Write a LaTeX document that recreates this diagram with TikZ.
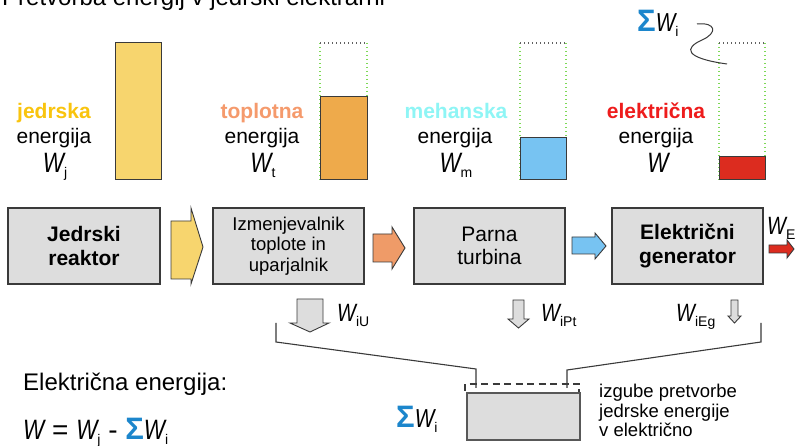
\documentclass[tikz,border=0pt]{standalone}
\usepackage{fontspec}
\setmainfont{Liberation Sans}
\usepackage{graphicx}
\usetikzlibrary{calc}

\definecolor{boxgray}{HTML}{DDDDDD}
\definecolor{edgegray}{HTML}{3A3A3A}
\definecolor{nucyellow}{HTML}{F7D56E}
\definecolor{heatfill}{HTML}{EEAA4B}
\definecolor{heatarrow}{HTML}{EF9B68}
\definecolor{mechblue}{HTML}{77C3F2}
\definecolor{elecred}{HTML}{DC2C1F}
\definecolor{jedcol}{HTML}{F9C40E}
\definecolor{topcol}{HTML}{F59A6C}
\definecolor{mehcol}{HTML}{8EF5F5}
\definecolor{elcol}{HTML}{EE1C1C}
\definecolor{sigmablue}{HTML}{1C86CC}
\definecolor{dotgreen}{HTML}{7ED957}

% italic W, narrowed, optional size
\newcommand\Wv[1][28]{\scalebox{0.8}[1]{\fontsize{#1}{#1}\selectfont\itshape W}}
% lowered small index
\newcommand\Wsb[1]{\raisebox{-5pt}{\fontsize{14}{14}\selectfont #1}}
% blue summation sign
\newcommand\Sg[1][31]{{\fontsize{#1}{#1}\selectfont\bfseries\color{sigmablue}Σ}}

\begin{document}
\begin{tikzpicture}[x=1pt,y=-1pt,
  procbox/.style={draw=edgegray, line width=1.4pt, fill=boxgray,
    minimum width=151pt, minimum height=76pt, inner sep=0pt, align=center},
  flowarrow/.style={draw=edgegray, line width=0.9pt},
  lossarrow/.style={draw=edgegray, line width=0.9pt, fill=boxgray},
  bracketline/.style={draw=edgegray, line width=1.1pt},
  lbl/.style={inner sep=0pt, anchor=base, font=\fontsize{21}{24}\selectfont},
  lblw/.style={inner sep=0pt, anchor=base west},
  barfill/.style={draw=edgegray, line width=1pt},
  dotside/.style={draw=dotgreen, line width=1.2pt, dash pattern=on 1.3pt off 2.7pt},
  dottop/.style={draw=edgegray!80, line width=1.2pt, dash pattern=on 1.3pt off 2.7pt}]

\useasboundingbox (0,0) rectangle (796,446);
\fill[white] (0,0) rectangle (796,446);

% heading (runs off the top edge)
\node[lblw] (title) at (2,6) {\fontsize{24}{24}\selectfont Pretvorba energij v jedrski elektrarni};

% ---------- energy bars ----------
\fill[nucyellow] (115,43) rectangle (161,180);
\draw[barfill] (115,43) rectangle (161,180);

\foreach \xa/\xb in {320/367, 520/566, 719/765}{
  \draw[dotside] (\xa,43) -- (\xa,180);
  \draw[dotside] (\xb,43) -- (\xb,180);
  \draw[dottop] (\xa,43) -- (\xb,43);
}
\draw[barfill, fill=heatfill] (320,97) rectangle (367,180);
\draw[barfill, fill=mechblue] (520,138) rectangle (566,180);
\draw[barfill, fill=elecred] (719,157) rectangle (765,180);

% ---------- bar labels ----------
\node[lbl] (l1a) at (54,119) {\bfseries\color{jedcol}jedrska};
\node[lbl] (l1b) at (54,144) {energija};
\node[lbl] (l1c) at (55,173) {\Wv\Wsb{j}};

\node[lbl] (l2a) at (262,119) {\bfseries\color{topcol}toplotna};
\node[lbl] (l2b) at (262,144) {energija};
\node[lbl] (l2c) at (263,173) {\Wv\Wsb{t}};

\node[lbl] (l3a) at (456,119) {\bfseries\color{mehcol}mehanska};
\node[lbl] (l3b) at (455,144) {energija};
\node[lbl] (l3c) at (456,173) {\Wv\Wsb{m}};

\node[lbl] (l4a) at (656,119) {\bfseries\color{elcol}električna};
\node[lbl] (l4b) at (656,144) {energija};
\node[lbl] (l4c) at (658,173) {\Wv};

% total losses marker at the top
\node[lblw] (sumtop) at (637,32) {\Sg\Wv[26]\Wsb{i}};
\draw[line width=1pt, edgegray] (697,24) .. controls (716,22) and (718,33) .. (702,40)
  .. controls (684,48) and (684,58) .. (727,64);

% ---------- process chain ----------
\node[procbox, font=\fontsize{21}{24.4}\selectfont\bfseries, minimum width=152pt] (reactor) at (84,246) {Jedrski\\reaktor};
\node[procbox, font=\fontsize{18.5}{20.6}\selectfont] (exchanger) at (288.5,246) {Izmenjevalnik\\toplote in\\uparjalnik};
\node[procbox, font=\fontsize{21}{23.7}\selectfont] (turbine) at (489.5,246) {Parna\\turbina};
\node[procbox, font=\fontsize{21}{23.7}\selectfont\bfseries] (generator) at (687.5,246) {Električni\\generator};

% flow arrows between the stages
\draw[flowarrow, fill=nucyellow] (171,221) -- (191,221) -- (191,208) -- (203,247) -- (191,284) -- (191,279) -- (171,279) -- cycle;
\draw[flowarrow, fill=heatarrow] (373,234) -- (392,234) -- (392,227) -- (405,248) -- (392,269) -- (392,262) -- (373,262) -- cycle;
\draw[flowarrow, fill=mechblue] (572,237) -- (595,237) -- (595,233) -- (606,246) -- (595,259) -- (595,254) -- (572,254) -- cycle;
\draw[flowarrow, fill=elecred] (769,245) -- (787,245) -- (787,240) -- (794,249) -- (787,258) -- (787,253) -- (769,253) -- cycle;
\node[lblw] (WE) at (767,235) {\Wv[25]\Wsb{E}};

% ---------- losses ----------
\draw[lossarrow] (297,299) -- (323,299) -- (323,323) -- (329,323) -- (310,332) -- (290,323) -- (297,323) -- cycle;
\node[lblw] (WiU) at (337,322) {\Wv[25]\Wsb{iU}};

\draw[lossarrow] (513,300) -- (524,300) -- (524,319) -- (529,319) -- (518.5,328) -- (508,319) -- (513,319) -- cycle;
\node[lblw] (WiPt) at (541,322) {\Wv[25]\Wsb{iPt}};

\draw[lossarrow] (731,300) -- (738,300) -- (738,316) -- (741,316) -- (734.5,323) -- (728,316) -- (731,316) -- cycle;
\node[lblw] (WiEg) at (676,322) {\Wv[25]\Wsb{iEg}};

% collecting brackets
\draw[bracketline] (276,323) -- (276,342) -- (476,369) -- (476,388);
\draw[bracketline] (761,323) -- (761,342) -- (567,370) -- (567,388);

% loss box
\draw[edgegray, line width=1.8pt, dash pattern=on 7pt off 4.5pt] (465,391) -- (465,384) -- (579,384) -- (579,392);
\node[draw=edgegray!85, line width=1.2pt, fill=boxgray, minimum width=113pt, minimum height=47pt, inner sep=0pt] (losses) at (523.5,416.5) {};
\node[lblw] (sumlow) at (396,428) {\Sg\Wv[26]\Wsb{i}};
\node[inner sep=0pt, anchor=base west, font=\fontsize{18.5}{19.5}\selectfont] (losstext) at (599,398)
  {\begin{tabular}[t]{@{}l@{}}izgube pretvorbe\\jedrske energije\\v električno\end{tabular}};

% ---------- balance ----------
\node[lblw] (eltext) at (23,391) {\fontsize{24}{24}\selectfont Električna energija:};
\node[lblw] (balance) at (23,440) {\fontsize{28}{28}\selectfont \Wv\ = \Wv\Wsb{j} - \Sg\Wv\Wsb{i}};

\end{tikzpicture}
\end{document}
